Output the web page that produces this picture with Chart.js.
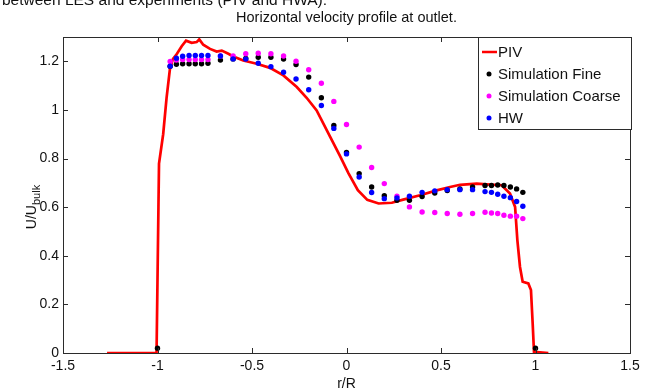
<!DOCTYPE html>
<html>
<head>
<meta charset="utf-8">
<script src="https://cdn.jsdelivr.net/npm/chart.js@4.4.1/dist/chart.umd.min.js"></script>
<style>
  html, body { margin: 0; padding: 0; background: #fff; }
  #wrap { position: relative; width: 653px; height: 390px; overflow: hidden; }
</style>
</head>
<body>
<div id="wrap"><canvas id="velChart" width="653" height="390"></canvas></div>
<script>
// radial positions of the simulation / HW points (r/R)
const rGrid = [-1, -0.933, -0.9, -0.867, -0.833, -0.8, -0.767, -0.733, -0.667, -0.6, -0.533,
    -0.467, -0.4, -0.333, -0.267, -0.2, -0.133, -0.067, 0, 0.067, 0.133, 0.2, 0.267, 0.333,
    0.4, 0.467, 0.533, 0.6, 0.667, 0.733, 0.767, 0.8, 0.833, 0.867, 0.9, 0.933, 1];

const fineU = [0.02, 1.18, 1.188, 1.19, 1.19, 1.19, 1.19, 1.192, 1.205, 1.21, 1.212,
    1.217, 1.217, 1.209, 1.187, 1.135, 1.05, 0.936, 0.825, 0.738, 0.683, 0.647, 0.628, 0.628,
    0.644, 0.658, 0.668, 0.675, 0.683, 0.689, 0.689, 0.691, 0.689, 0.683, 0.675, 0.661, 0.02];

const coarseU = [null, 1.199, 1.205, 1.207, 1.207, 1.207, 1.207, 1.207, 1.222, 1.222, 1.231,
    1.233, 1.231, 1.222, 1.2, 1.165, 1.11, 1.035, 0.94, 0.847, 0.763, 0.697, 0.645, 0.601,
    0.58, 0.578, 0.574, 0.571, 0.574, 0.579, 0.576, 0.574, 0.567, 0.563, 0.563, 0.553, null];

const hwU = [null, 1.18, 1.213, 1.221, 1.224, 1.224, 1.224, 1.224, 1.222, 1.21, 1.209,
    1.192, 1.178, 1.155, 1.127, 1.083, 1.018, 0.924, 0.819, 0.724, 0.66, 0.635, 0.638, 0.645,
    0.661, 0.667, 0.672, 0.672, 0.672, 0.664, 0.661, 0.653, 0.645, 0.639, 0.623, 0.604, null];

// PIV profile
const pivR = [-1.267, -1.005, -1.0, -0.995, -0.992, -0.97, -0.952, -0.934, -0.918, -0.902,
    -0.872, -0.849, -0.819, -0.793, -0.779, -0.758, -0.722, -0.687, -0.66, -0.625, -0.599,
    -0.546, -0.475, -0.405, -0.334, -0.263, -0.211, -0.158, -0.087, -0.034, 0.01, 0.06, 0.11,
    0.17, 0.24, 0.3, 0.389, 0.477, 0.548, 0.601, 0.689, 0.742, 0.821, 0.865, 0.892, 0.904,
    0.918, 0.932, 0.962, 0.976, 0.985, 0.992, 1.068];
const pivU = [0, 0, 0.3, 0.6, 0.779, 0.9, 1.05, 1.17, 1.21, 1.225,
    1.262, 1.285, 1.276, 1.279, 1.29, 1.268, 1.251, 1.24, 1.244, 1.231, 1.22,
    1.203, 1.19, 1.173, 1.142, 1.094, 1.05, 0.998, 0.89, 0.81, 0.74, 0.67, 0.63,
    0.615, 0.618, 0.631, 0.649, 0.669, 0.683, 0.692, 0.697, 0.694, 0.69, 0.656, 0.601, 0.464,
    0.354, 0.293, 0.286, 0.259, 0.122, 0.005, 0];

const xTicks = [-1.5, -1, -0.5, 0, 0.5, 1, 1.5];
const yTicks = [0, 0.2, 0.4, 0.6, 0.8, 1, 1.2];

const FONT = '"Liberation Sans", Arial, Helvetica, sans-serif';

function pts(xs, ys) {
    const out = [];
    xs.forEach((x, i) => { if (ys[i] !== null) out.push({x: x, y: ys[i]}); });
    return out;
}

// MATLAB style box with inward ticks, titles and legend
const decorations = {
    id: 'decorations',
    afterDatasetsDraw(chart) {
        const ctx = chart.ctx;
        const a = chart.chartArea;
        const xs = chart.scales.x, ys = chart.scales.y;
        ctx.save();
        ctx.strokeStyle = '#2b2b2b';
        ctx.lineWidth = 1;
        ctx.strokeRect(Math.round(a.left) + 0.5, Math.round(a.top) + 0.5,
            Math.round(a.right - a.left), Math.round(a.bottom - a.top));
        ctx.beginPath();
        xTicks.forEach(v => {
            const px = Math.round(xs.getPixelForValue(v)) + 0.5;
            ctx.moveTo(px, a.bottom); ctx.lineTo(px, a.bottom - 5);
            ctx.moveTo(px, a.top); ctx.lineTo(px, a.top + 5);
        });
        yTicks.forEach(v => {
            const py = Math.round(ys.getPixelForValue(v)) + 0.5;
            ctx.moveTo(a.left, py); ctx.lineTo(a.left + 5, py);
            ctx.moveTo(a.right, py); ctx.lineTo(a.right - 5, py);
        });
        ctx.stroke();

        // legend
        const lx = 478, ly = 37, lw = 153, lh = 92;
        ctx.fillStyle = '#fff';
        ctx.fillRect(lx, ly, lw, lh);
        ctx.strokeStyle = '#2b2b2b';
        ctx.strokeRect(lx + 0.5, ly + 0.5, lw, lh);
        ctx.font = '15px ' + FONT;
        ctx.textBaseline = 'middle';
        ctx.textAlign = 'left';
        chart.data.datasets.forEach((ds, i) => {
            const y = ly + 15 + i * 22;
            if (ds.showLine) {
                ctx.strokeStyle = ds.borderColor;
                ctx.lineWidth = 2.5;
                ctx.beginPath();
                ctx.moveTo(lx + 4, y); ctx.lineTo(lx + 19, y);
                ctx.stroke();
            } else {
                ctx.fillStyle = ds.pointBackgroundColor;
                ctx.beginPath();
                ctx.arc(lx + 11, y, 2.5, 0, Math.PI * 2);
                ctx.fill();
            }
            ctx.fillStyle = '#111';
            ctx.fillText(ds.label, lx + 20, y + 1);
        });

        // titles
        ctx.fillStyle = '#111';
        ctx.textAlign = 'center';
        ctx.textBaseline = 'alphabetic';
        ctx.font = '14.5px ' + FONT;
        ctx.fillText('Horizontal velocity profile at outlet.', (a.left + a.right) / 2, 22);
        ctx.font = '14px ' + FONT;
        ctx.fillText('r/R', (a.left + a.right) / 2, 388);

        ctx.textAlign = 'left';
        ctx.font = '15.5px ' + FONT;
        ctx.fillText('between LES and experiments (PIV and HWA).', 2, 5);

        // y axis title with subscript
        ctx.translate(36, 207);
        ctx.rotate(-Math.PI / 2);
        ctx.font = '14px ' + FONT;
        const w1 = ctx.measureText('U/U').width;
        ctx.font = '11px ' + FONT;
        const w2 = ctx.measureText('bulk').width;
        const x0 = -(w1 + w2) / 2;
        ctx.font = '14px ' + FONT;
        ctx.fillText('U/U', x0, 0);
        ctx.font = '11px ' + FONT;
        ctx.fillText('bulk', x0 + w1, 4);
        ctx.restore();
    }
};

new Chart(document.getElementById('velChart'), {
    type: 'scatter',
    data: {
        datasets: [
            {label: 'PIV', data: pts(pivR, pivU), showLine: true, borderColor: '#ff0000',
                backgroundColor: '#ff0000', borderWidth: 2.7, pointRadius: 0, tension: 0, order: 4},
            {label: 'Simulation Fine', data: pts(rGrid, fineU), pointBackgroundColor: '#000000',
                pointBorderWidth: 0, pointRadius: 2.7, order: 3},
            {label: 'Simulation Coarse', data: pts(rGrid, coarseU), pointBackgroundColor: '#ff00ff',
                pointBorderWidth: 0, pointRadius: 2.7, order: 2},
            {label: 'HW', data: pts(rGrid, hwU), pointBackgroundColor: '#0000ff',
                pointBorderWidth: 0, pointRadius: 2.7, order: 1}
        ]
    },
    options: {
        responsive: false,
        animation: false,
        devicePixelRatio: 1,
        layout: { padding: { top: 37, right: 23, left: 0, bottom: 0 } },
        plugins: { legend: { display: false }, tooltip: { enabled: false } },
        scales: {
            x: {
                type: 'linear', min: -1.5, max: 1.5,
                grid: { display: false, drawTicks: false },
                border: { display: false },
                afterBuildTicks: s => { s.ticks = xTicks.map(v => ({value: v})); },
                afterFit: s => { s.height = 37; },
                ticks: { color: '#111', padding: 5, maxRotation: 0, font: { family: FONT, size: 14 },
                    callback: v => String(v) }
            },
            y: {
                type: 'linear', min: 0, max: 1.3,
                grid: { display: false, drawTicks: false },
                border: { display: false },
                afterBuildTicks: s => { s.ticks = yTicks.map(v => ({value: v})); },
                afterFit: s => { s.width = 63; },
                ticks: { color: '#111', padding: 4, font: { family: FONT, size: 14 },
                    callback: v => String(v) }
            }
        }
    },
    plugins: [decorations]
});
</script>
</body>
</html>
